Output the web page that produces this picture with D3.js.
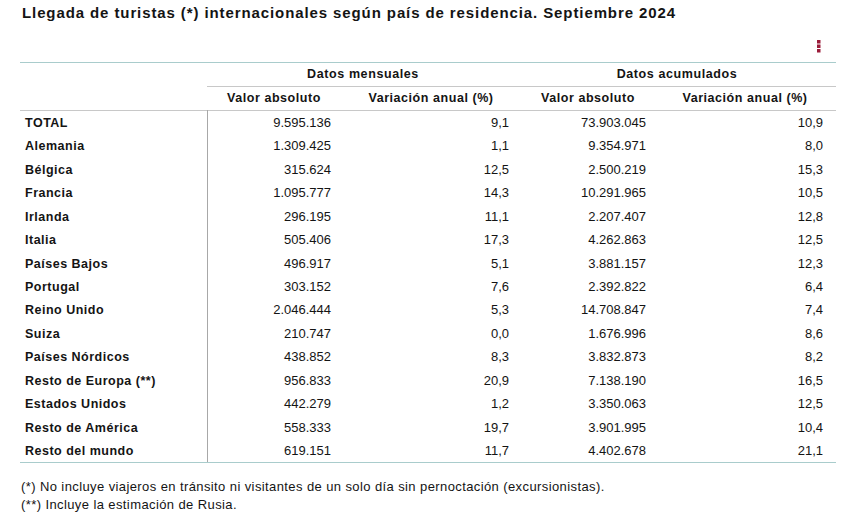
<!DOCTYPE html>
<html><head><meta charset="utf-8">
<script src="https://cdn.jsdelivr.net/npm/d3@7"></script>
<style>
html,body{margin:0;padding:0;background:#fff;}
svg{display:block;font-family:"Liberation Sans",Arial,sans-serif;}
</style></head>
<body>
<svg id="chart" width="850" height="518"></svg>
<script>
const title = "Llegada de turistas (*) internacionales según país de residencia. Septiembre 2024";
const groupHeaders = ["Datos mensuales", "Datos acumulados"];
const subHeaders = ["Valor absoluto", "Variación anual (%)", "Valor absoluto", "Variación anual (%)"];
const categories = ["TOTAL","Alemania","Bélgica","Francia","Irlanda","Italia","Países Bajos","Portugal","Reino Unido","Suiza","Países Nórdicos","Resto de Europa (**)","Estados Unidos","Resto de América","Resto del mundo"];
const monthlyValue = [9595136,1309425,315624,1095777,296195,505406,496917,303152,2046444,210747,438852,956833,442279,558333,619151];
const monthlyChange = [9.1,1.1,12.5,14.3,11.1,17.3,5.1,7.6,5.3,0.0,8.3,20.9,1.2,19.7,11.7];
const cumulativeValue = [73903045,9354971,2500219,10291965,2207407,4262863,3881157,2392822,14708847,1676996,3832873,7138190,3350063,3901995,4402678];
const cumulativeChange = [10.9,8.0,15.3,10.5,12.8,12.5,12.3,6.4,7.4,8.6,8.2,16.5,12.5,10.4,21.1];
const footnotes = ["(*) No incluye viajeros en tránsito ni visitantes de un solo día sin pernoctación (excursionistas).","(**) Incluye la estimación de Rusia."];

const es = d3.formatLocale({decimal:",", thousands:".", grouping:[3], currency:["","€"]});
const fmtInt = es.format(",d");
const fmtPct = es.format(".1f");

const svg = d3.select("#chart");
const left = 20, right = 836, splitX = 207;
const ink = "#141414";

// title
svg.append("text").attr("x",22).attr("y",18).attr("font-size",15).attr("font-weight","bold")
  .attr("letter-spacing",0.9).attr("fill",ink).text(title);

// menu dots
const dots = [0,1,2];
svg.selectAll("rect.dot").data(dots).join("rect").attr("class","dot")
  .attr("x",817).attr("y",d=>40+d*4.5).attr("width",3.5).attr("height",3.5).attr("fill","#9b1c3a");

// row scale
const y = d3.scaleBand().domain(categories).range([110.5,462.5]).paddingInner(0).paddingOuter(0);

// column anchors (right edges for numbers, centers for headers)
const colRight = [331, 509, 646, 823];
const colCenter = [274, 431, 588, 745];
const groupCenter = [363, 677];

// lines
svg.append("line").attr("x1",left).attr("x2",right).attr("y1",62.5).attr("y2",62.5).attr("stroke","#a9cccc").attr("stroke-width",1.2);
svg.append("line").attr("x1",splitX).attr("x2",right).attr("y1",86.5).attr("y2",86.5).attr("stroke","#c8c8c8");
svg.append("line").attr("x1",left).attr("x2",right).attr("y1",110.5).attr("y2",110.5).attr("stroke","#c8c8c8");
svg.append("line").attr("x1",splitX+0.5).attr("x2",splitX+0.5).attr("y1",110).attr("y2",462).attr("stroke","#a8a8a8");
svg.append("line").attr("x1",left).attr("x2",right).attr("y1",462.5).attr("y2",462.5).attr("stroke","#a9cccc").attr("stroke-width",1.2);

// group headers
svg.selectAll("text.gh").data(groupHeaders).join("text").attr("class","gh")
  .attr("x",(d,i)=>groupCenter[i]).attr("y",78).attr("text-anchor","middle").attr("letter-spacing",0.6)
  .attr("font-size",12.5).attr("font-weight","bold").attr("fill",ink).text(d=>d);
svg.selectAll("text.sh").data(subHeaders).join("text").attr("class","sh")
  .attr("x",(d,i)=>colCenter[i]).attr("y",102).attr("text-anchor","middle").attr("letter-spacing",0.55)
  .attr("font-size",12.5).attr("font-weight","bold").attr("fill",ink).text(d=>d);

// rows
const rows = categories.map((c,i)=>({c, vals:[fmtInt(monthlyValue[i]), fmtPct(monthlyChange[i]), fmtInt(cumulativeValue[i]), fmtPct(cumulativeChange[i])]}));
const g = svg.selectAll("g.row").data(rows).join("g").attr("class","row")
  .attr("transform",d=>`translate(0,${y(d.c)+y.bandwidth()/2+4.5})`);
g.append("text").attr("x",25).attr("font-size",12.5).attr("font-weight","bold").attr("letter-spacing",0.5)
  .attr("fill",ink).text(d=>d.c);
g.selectAll("text.v").data(d=>d.vals).join("text").attr("class","v")
  .attr("x",(d,i)=>colRight[i]).attr("text-anchor","end").attr("font-size",13).attr("fill",ink).text(d=>d);

// footnotes
svg.selectAll("text.fn").data(footnotes).join("text").attr("class","fn")
  .attr("x",21).attr("y",(d,i)=>491+i*18).attr("font-size",13).attr("letter-spacing",0.4)
  .attr("fill",ink).text(d=>d);
</script>
</body></html>
